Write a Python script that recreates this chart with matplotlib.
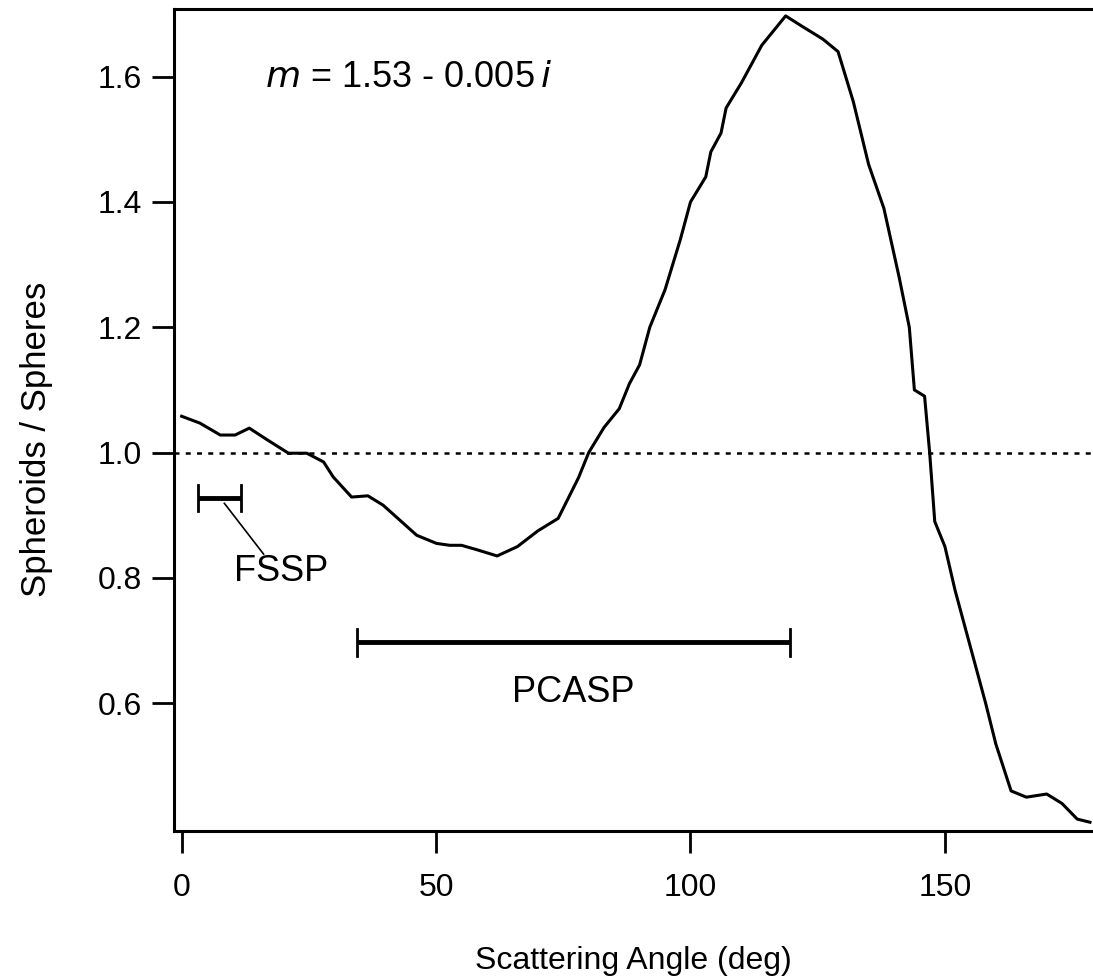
import matplotlib
matplotlib.use("Agg")
import matplotlib.pyplot as plt

plt.rcParams['font.family'] = ['Liberation Sans', 'DejaVu Sans']

# Data
angle = [0, 3.6, 7.6, 10.5, 13.3, 16.7, 21, 24.6, 27.9, 29.8, 33.4, 36.6, 39.6,
         46.2, 50.1, 52.7, 55, 58, 62, 66, 70, 74, 78, 80, 83, 86, 88, 90, 92,
         95, 98, 100, 103, 104, 106, 107, 110, 114, 117, 118.7, 122, 126, 129,
         132, 135, 138, 141, 143, 144, 146, 147, 148, 150, 152, 155, 158, 160,
         163, 166, 170, 173, 176, 178.5]
ratio = [1.058, 1.047, 1.028, 1.028, 1.039, 1.021, 0.999, 0.999, 0.985, 0.961,
         0.929, 0.931, 0.916, 0.868, 0.855, 0.852, 0.852, 0.845, 0.835, 0.85,
         0.875, 0.895, 0.96, 1.0, 1.04, 1.07, 1.11, 1.14, 1.2, 1.26, 1.34, 1.4,
         1.44, 1.48, 1.51, 1.55, 1.59, 1.65, 1.68, 1.697, 1.68, 1.66, 1.64,
         1.56, 1.46, 1.39, 1.28, 1.2, 1.1, 1.09, 1.0, 0.89, 0.85, 0.78, 0.69,
         0.6, 0.535, 0.46, 0.45, 0.455, 0.44, 0.415, 0.41]

fssp_range = [3.2, 11.6]
fssp_level = 0.928
pcasp_range = [34.5, 119.6]
pcasp_level = 0.697

xticks = [0, 50, 100, 150]
yticks = [0.6, 0.8, 1.0, 1.2, 1.4, 1.6]

fig = plt.figure(figsize=(10.93, 9.8), dpi=100)
ax = fig.add_axes([174/1093, 1 - 831/980, 1 - 174/1093, (831 - 9)/980])

ax.plot(angle, ratio, color='black', lw=2.2)
ax.axhline(1.0, color='black', lw=1.8, ls=(0, (2, 2.5)))

# FSSP bar
ax.plot(fssp_range, [fssp_level]*2, color='black', lw=3.5, solid_capstyle='butt')
for xv in fssp_range:
    ax.plot([xv, xv], [fssp_level - 0.021, fssp_level + 0.021], color='black', lw=2)
ax.plot([8.4, 16.1], [0.919, 0.838], color='black', lw=1.2)
ax.text(19.6, 0.81, 'FSSP', fontsize=26, ha='center', va='center')

# PCASP bar
ax.plot(pcasp_range, [pcasp_level]*2, color='black', lw=3.5, solid_capstyle='butt')
for xv in pcasp_range:
    ax.plot([xv, xv], [pcasp_level - 0.021, pcasp_level + 0.021], color='black', lw=2)
ax.text(77, 0.617, 'PCASP', fontsize=26, ha='center', va='center')

ax.text(16.4, 1.598, r'$m$ = 1.53 - 0.005$\,i$', fontsize=26, ha='left', va='center',
        math_fontfamily='dejavusans')

ax.set_xlim(-1.5, 179.1)
ax.set_ylim(0.396, 1.708)
ax.set_xticks(xticks)
ax.set_xticklabels([str(v) for v in xticks])
ax.set_yticks(yticks)
ax.set_yticklabels([f'{v:.1f}' for v in yticks])
ax.tick_params(direction='out', length=16, width=2, labelsize=23, color='black')
ax.tick_params(axis='x', pad=14)
ax.tick_params(axis='y', pad=7)
for s in ['left', 'bottom', 'top']:
    ax.spines[s].set_linewidth(2.2)
ax.spines['right'].set_visible(False)

ax.set_xlabel('Scattering Angle (deg)', fontsize=23, labelpad=31)
ax.set_ylabel('Spheroids / Spheres', fontsize=25)
ax.yaxis.set_label_coords(-0.132, 0.477)

fig.savefig('out.png', dpi=100)
